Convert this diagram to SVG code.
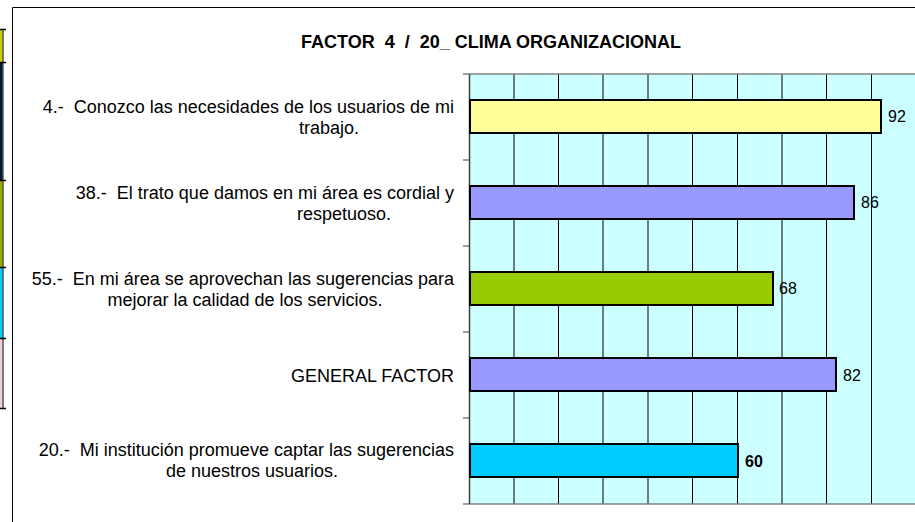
<svg xmlns="http://www.w3.org/2000/svg" width="915" height="522" viewBox="0 0 915 522">
<style>
.lbl{font-family:"Liberation Sans",Arial,sans-serif;font-size:18px;fill:#000}
.ttl{font-family:"Liberation Sans",Arial,sans-serif;font-size:18px;font-weight:bold;fill:#000}
.val{font-family:"Liberation Sans",Arial,sans-serif;font-size:16px;fill:#000}
.bar{stroke:#000;stroke-width:2}
.grid{stroke:#000;stroke-width:1}
</style>
<rect width="915" height="522" fill="#fff"/>
<g id="left-strip">
<rect x="0" y="29" width="2.5" height="33" fill="#cccc00"/>
<rect x="0" y="62" width="2.5" height="118" fill="#001a33"/>
<rect x="0" y="180" width="2.5" height="87" fill="#99aa00"/>
<rect x="0" y="267" width="2.5" height="71" fill="#00ccff"/>
<rect x="0" y="338" width="2.5" height="70" fill="#f0d0d0"/>
<line x1="3" y1="29" x2="3" y2="409" stroke="#000" stroke-width="1"/>
<g stroke="#000" stroke-width="1.5">
<line x1="0" y1="29.5" x2="6" y2="29.5"/><line x1="0" y1="62.5" x2="6" y2="62.5"/><line x1="0" y1="180.5" x2="6" y2="180.5"/><line x1="0" y1="267.5" x2="6" y2="267.5"/><line x1="0" y1="338.5" x2="6" y2="338.5"/><line x1="0" y1="408.5" x2="6" y2="408.5"/>
</g>
</g>
<g id="frame">
<path d="M12.5 522 V7.5 H915" fill="none" stroke="#000" stroke-width="1"/>
</g>
<text class="ttl" x="491" y="48" text-anchor="middle" xml:space="preserve">FACTOR  4  /  20_ CLIMA ORGANIZACIONAL</text>
<g id="plot">
<rect x="469" y="74" width="446" height="430" fill="#ccffff"/>
<g class="grid">
<line x1="514" y1="74" x2="514" y2="504"/><line x1="558.5" y1="74" x2="558.5" y2="504"/><line x1="603" y1="74" x2="603" y2="504"/><line x1="648" y1="74" x2="648" y2="504"/><line x1="692.5" y1="74" x2="692.5" y2="504"/><line x1="737.5" y1="74" x2="737.5" y2="504"/><line x1="782" y1="74" x2="782" y2="504"/><line x1="826.5" y1="74" x2="826.5" y2="504"/><line x1="871.5" y1="74" x2="871.5" y2="504"/>
</g>
<line x1="469" y1="74" x2="915" y2="74" stroke="#808080" stroke-width="1.5"/>
<line x1="463" y1="504" x2="915" y2="504" stroke="#808080" stroke-width="1.5"/>
<line x1="469.5" y1="74" x2="469.5" y2="504" stroke="#404040" stroke-width="1.5"/>
<g stroke="#404040" stroke-width="1">
<line x1="463" y1="74" x2="469" y2="74"/><line x1="463" y1="160" x2="469" y2="160"/><line x1="463" y1="246" x2="469" y2="246"/><line x1="463" y1="332" x2="469" y2="332"/><line x1="463" y1="418" x2="469" y2="418"/>
</g>
</g>
<g id="bar-4">
<rect class="bar" x="470" y="100" width="411" height="33" fill="#ffff99"/>
<text class="val" x="888" y="122">92</text>
<text class="lbl" x="454" y="113" text-anchor="end" xml:space="preserve">4.-  Conozco las necesidades de los usuarios de mi</text>
<text class="lbl" x="329" y="134" text-anchor="middle">trabajo.</text>
</g>
<g id="bar-38">
<rect class="bar" x="470" y="186" width="384" height="33" fill="#9999ff"/>
<text class="val" x="861" y="208">86</text>
<text class="lbl" x="454" y="199" text-anchor="end" xml:space="preserve">38.-  El trato que damos en mi área es cordial y</text>
<text class="lbl" x="344" y="220" text-anchor="middle">respetuoso.</text>
</g>
<g id="bar-55">
<rect class="bar" x="470" y="272" width="303" height="33" fill="#99cc00"/>
<text class="val" x="779" y="294">68</text>
<text class="lbl" x="454" y="285" text-anchor="end" xml:space="preserve">55.-  En mi área se aprovechan las sugerencias para</text>
<text class="lbl" x="245" y="306" text-anchor="middle">mejorar la calidad de los servicios.</text>
</g>
<g id="bar-general">
<rect class="bar" x="470" y="358" width="366" height="33" fill="#9999ff"/>
<text class="val" x="843" y="381">82</text>
<text class="lbl" x="454" y="382" text-anchor="end">GENERAL FACTOR</text>
</g>
<g id="bar-20">
<rect class="bar" x="470" y="444" width="268" height="33" fill="#00ccff"/>
<text class="val" x="745" y="467" font-weight="bold">60</text>
<text class="lbl" x="454" y="456" text-anchor="end" xml:space="preserve">20.-  Mi institución promueve captar las sugerencias</text>
<text class="lbl" x="252" y="477" text-anchor="middle">de nuestros usuarios.</text>
</g>
</svg>
